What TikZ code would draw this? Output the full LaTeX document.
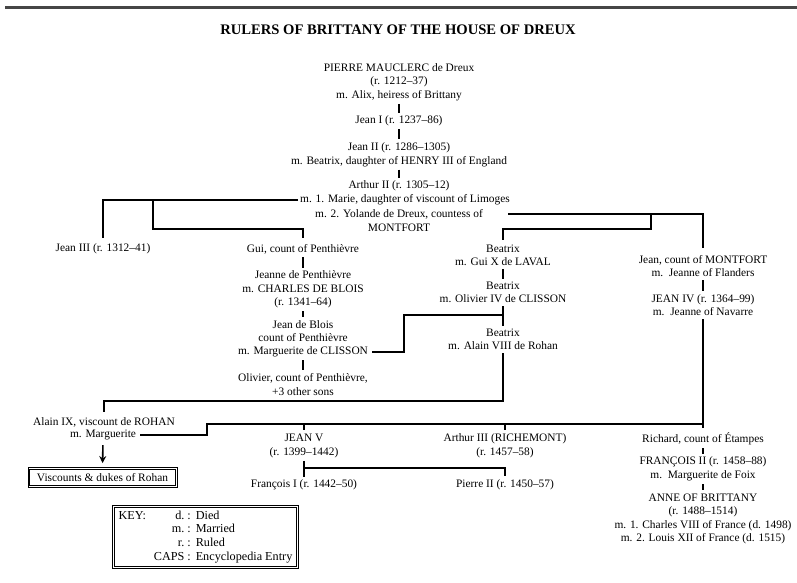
\documentclass[tikz,border=0pt]{standalone}
\usepackage{fontspec}
\setmainfont{Liberation Serif}
\usetikzlibrary{arrows.meta}
\begin{document}
\begin{tikzpicture}[x=1pt,y=-1pt,
  person/.style={align=center,inner sep=1pt,font=\fontsize{11.4}{13.6}\selectfont},
  link/.style={line width=1.6pt},
  tick/.style={line width=1.6pt,shorten <=2pt,shorten >=2pt},
  framed/.style={draw,line width=0.9pt,inner sep=2pt,
    font=\fontsize{11.4}{13.6}\selectfont},
  innerframe/.style={line width=0.6pt}]
\useasboundingbox (0,0) rectangle (797,583);
\fill[white] (0,0) rectangle (797,583);

% heading rule and title
\coordinate (ruleL) at (5,8);
\coordinate (ruleR) at (797,8);
\draw[line width=3pt,gray!55!black] (ruleL) -- (ruleR);
\node[font=\bfseries\fontsize{14.6}{16}\selectfont] (title) at (398,30)
  {RULERS OF BRITTANY OF THE HOUSE OF DREUX};

% main line
\node[person] (pierre) at (399,82) {PIERRE MAUCLERC de Dreux\\(r. 1212--37)\\m. Alix, heiress of Brittany};
\node[person] (jean1) at (399,121) {Jean I (r. 1237--86)};
\node[person] (jean2) at (399,154.5) {Jean II (r. 1286--1305)\\m. Beatrix, daughter of HENRY III of England};
\node[person] (arthur) at (399,186) {Arthur II (r. 1305--12)};
\node[person] (marie) at (405,200) {m. 1. Marie, daughter of viscount of Limoges};
\node[person] (yolande) at (399,214) {m. 2. Yolande de Dreux, countess of};
\node[person] (montfort) at (399,227.5) {MONTFORT};

% Penthièvre branch
\node[person] (jean3) at (103,249) {Jean III (r. 1312--41)};
\node[person] (gui) at (303,249) {Gui, count of Penthièvre};
\node[person] (jeanne) at (303,289.5) {Jeanne de Penthièvre\\m. CHARLES DE BLOIS\\(r. 1341--64)};
\node[person] (jdb) at (303,331) {Jean de Blois\\count of Penthièvre};
\node[person] (jdbm) at (303,352) {m. Marguerite de CLISSON};
\node[person] (olivier) at (303,384.5) {Olivier, count of Penthièvre,\\+3 other sons};

% Laval / Clisson / Rohan line
\node[person] (beatrix1) at (503,255.5) {Beatrix\\m. Gui X de LAVAL};
\node[person] (beatrix2) at (503,292.5) {Beatrix\\m. Olivier IV de CLISSON};
\node[person] (beatrix3) at (503,339.5) {Beatrix\\m. Alain VIII de Rohan};

% Montfort branch
\node[person] (jeanm) at (703,266) {Jean, count of MONTFORT\\m.\ \ Jeanne of Flanders};
\node[person] (jean4) at (703,305) {JEAN IV (r. 1364--99)\\m.\ \ Jeanne of Navarre};

% Rohan
\node[person] (alain) at (104,422) {Alain IX, viscount de ROHAN};
\node[person] (alainm) at (103,435) {m. Marguerite};
\node[framed,minimum width=149pt,minimum height=20pt] (rohan) at (102.5,477.5) {Viscounts \& dukes of Rohan};
\draw[innerframe] ([xshift=2.2pt,yshift=-2.2pt]rohan.north west) rectangle ([xshift=-2.2pt,yshift=2.2pt]rohan.south east);

% children of Jean IV
\node[person] (jean5) at (304,446) {JEAN V\\(r. 1399--1442)};
\node[person] (arthur3) at (505,446) {Arthur III (RICHEMONT)\\(r. 1457--58)};
\node[person] (francois1) at (304,485) {François I (r. 1442--50)};
\node[person] (pierre2) at (505,485) {Pierre II (r. 1450--57)};
\node[person] (richard) at (703,439) {Richard, count of Étampes};
\node[person] (francois2) at (703,469) {FRANÇOIS II (r. 1458--88)\\m.\ \ Marguerite de Foix};
\node[person] (anne) at (703,519) {ANNE OF BRITTANY\\(r. 1488--1514)\\m. 1. Charles VIII of France (d. 1498)\\m. 2. Louis XII of France (d. 1515)};

% key
\node[framed,anchor=north west,minimum width=186pt,minimum height=63pt,
  font=\fontsize{12.2}{13.7}\selectfont] (key) at (112,505) {%
  \begin{tabular}{@{}l@{\hspace{8pt}}r@{\hspace{3pt}:\hspace{5pt}}l@{}}
  KEY: & d. & Died\\
       & m. & Married\\
       & r. & Ruled\\
       & CAPS & Encyclopedia Entry
  \end{tabular}};
\draw[innerframe] ([xshift=2.2pt,yshift=-2.2pt]key.north west) rectangle ([xshift=-2.2pt,yshift=2.2pt]key.south east);

% descent ticks
\draw[tick] (pierre) -- (jean1);
\draw[tick] (jean1) -- (jean2);
\draw[tick] (jean2) -- (arthur);
\draw[tick] (gui) -- (jeanne);
\draw[tick] (jeanne) -- (jdb);
\draw[tick] (jdbm) -- (olivier);
\draw[tick] (beatrix1) -- (beatrix2);
\draw[tick] (beatrix2) -- (beatrix3);
\draw[tick] (jeanm) -- (jean4);
\draw[tick] (richard) -- (francois2);
\draw[tick] (francois2) -- (anne);
\draw[tick] (jean5) -- (francois1);

% first marriage
\coordinate (forkA) at (153,200);
\coordinate (guiTurn) at (153,229);
\draw[link,shorten <=1pt,shorten >=5pt] (marie.west) -| (jean3.north);
\draw[link,shorten >=5pt] (forkA) -- (guiTurn) -| (gui.north);

% second marriage
\coordinate (forkB) at (651,214);
\coordinate (beaTurn) at (651,229);
\draw[link,shorten <=24pt,shorten >=6pt] (yolande.east) -| (jeanm.north);
\draw[link,shorten >=4pt] (forkB) -- (beaTurn) -| (beatrix1.north);

% Clisson marriage
\coordinate (clUp) at (404,315);
\coordinate (clJoin) at (503,315);
\draw[link,shorten <=3pt] (jdbm.east) -| (clUp) -- (clJoin);

% Rohan descent
\coordinate (rohanTurn) at (503,401);
\draw[link,shorten <=2pt,shorten >=4pt] (beatrix3.south) -- (rohanTurn) -| (alain.north);
\draw[-{Stealth[length=7pt,width=7pt]},line width=1.6pt,shorten <=4pt,shorten >=4pt]
  (alainm.south) -- (rohan.north);

% Montfort descent
\coordinate (hR) at (703,424);
\coordinate (hL) at (207,424);
\draw[link,shorten <=2pt,shorten >=4pt] (jean4.south) -- (richard.north);
\draw[link,shorten >=3pt] (hR) -- (hL) |- (alainm.east);
\draw[link,shorten >=3pt] (jean5.north |- hR) -- (jean5.north);
\draw[link,shorten >=3pt] (arthur3.north |- hR) -- (arthur3.north);

% Jean V's second son
\coordinate (jvJoin) at (304,468);
\draw[link,shorten >=3pt] (jvJoin) -| (pierre2.north);
\end{tikzpicture}
\end{document}
